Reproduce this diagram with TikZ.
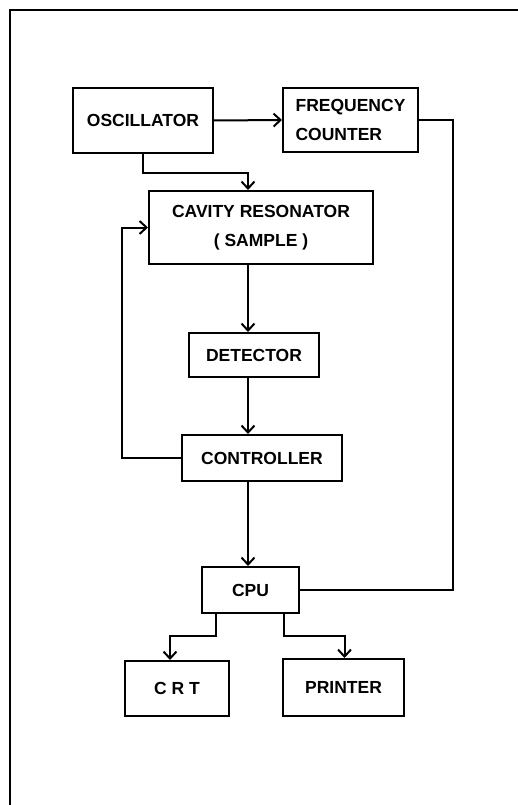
\documentclass[tikz,border=0pt]{standalone}
\usepackage{fontspec}
\setmainfont{Liberation Sans}
\usetikzlibrary{positioning, calc, arrows.meta}
\tikzset{
    block/.style={
        rectangle,
        draw=black,
        line width=2pt,
        inner sep=0pt,
        align=center,
        font=\fontsize{17.5}{29}\selectfont\bfseries
    },
    arrow/.style={-{Straight Barb[length=7pt,width=13pt,line width=2pt]}, line width=2pt, draw=black},
    link/.style={line width=2pt, draw=black},
    frame/.style={line width=1.6pt, draw=black}
}

\begin{document}
\begin{tikzpicture}[x=1pt, y=-1pt]

\useasboundingbox (0,0) rectangle (518,805);

% Frame
\draw[frame] (518,10) -- (10,10) -- (10,805);

% Top row
\node[block, minimum width=140, minimum height=65] (osc) at (143,120.5) {OSCILLATOR};
\node[block, minimum width=135, minimum height=64, align=left] (freq) at (350.5,120) {FREQUENCY\\COUNTER};

% Main column
\node[block, minimum width=224, minimum height=73] (cav) at (261,227.5) {CAVITY RESONATOR\\( SAMPLE )};
\node[block, minimum width=130, minimum height=44] (det) at (254,355) {DETECTOR};
\node[block, minimum width=160, minimum height=46] (ctrl) at (262,458) {CONTROLLER};
\node[block, minimum width=97, minimum height=46] (cpu) at (250.5,590) {CPU};

% Outputs
\node[block, minimum width=104, minimum height=55] (crt) at (177,688.5) {C R T};
\node[block, minimum width=121, minimum height=57] (prn) at (343.5,687.5) {PRINTER};

% Helper coordinates
\coordinate (trunk) at (248,0);
\coordinate (j1) at (248,173);
\coordinate (fb) at (122,0);
\coordinate (rt) at (453,0);
\coordinate (split) at (0,636);

% Arrows
\draw[arrow] (osc.east) -- (freq.west);
\draw[arrow] (osc.south) |- (j1) -- (j1 |- cav.north);
\draw[arrow] (trunk |- cav.south) -- (trunk |- det.north);
\draw[arrow] (trunk |- det.south) -- (trunk |- ctrl.north);
\draw[arrow] (trunk |- ctrl.south) -- (trunk |- cpu.north);
\draw[arrow] (ctrl.west) -| (fb |- cav.west) -- (cav.west);
\draw[link] (cpu.east) -| (rt |- freq.east) -- (freq.east);
\draw[arrow] ($(cpu.south)+(-35,0)$) |- ([xshift=-7]crt.north |- split) -- ([xshift=-7]crt.north);
\draw[arrow] ($(cpu.south)+(33,0)$) |- ([xshift=1]prn.north |- split) -- ([xshift=1]prn.north);

\end{tikzpicture}
\end{document}
